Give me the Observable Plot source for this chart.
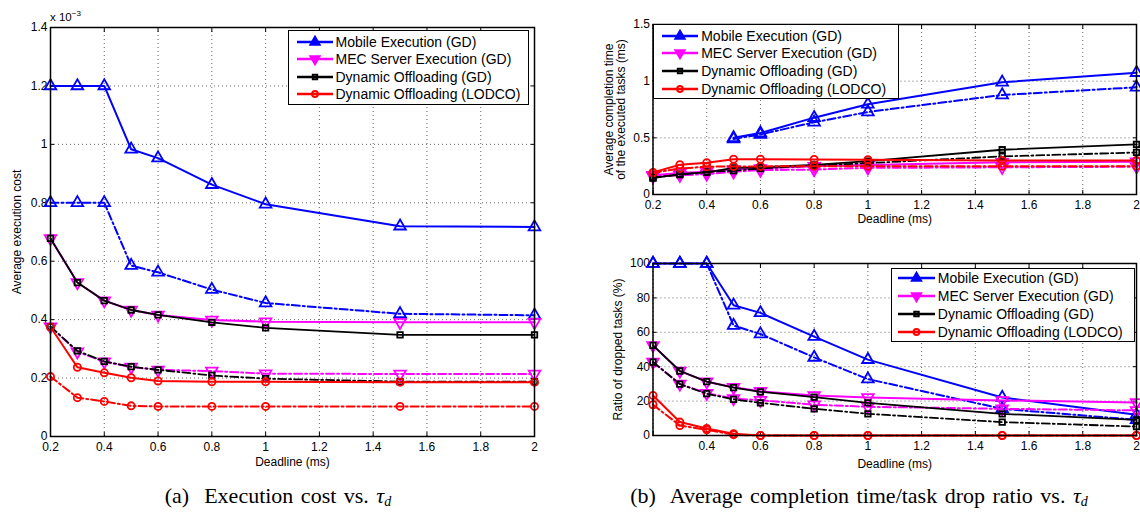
<!DOCTYPE html>
<html><head><meta charset="utf-8">
<script src="https://cdn.jsdelivr.net/npm/d3@7"></script>
<script src="https://cdn.jsdelivr.net/npm/@observablehq/plot@0.6"></script>
<style>
body{margin:0;background:#fff;}
#root{position:relative;width:1140px;height:512px;overflow:hidden;font-family:"Liberation Sans",Arial,sans-serif;color:#000;}
#root svg.plot{position:absolute;overflow:visible;}
.legend{position:absolute;border:1.5px solid #000;background:#fff;box-sizing:border-box;font-size:14px;}
.legend .row{position:absolute;left:0;height:18px;line-height:18px;white-space:nowrap;}
.legend svg{position:absolute;top:0;}
.legend span{position:absolute;top:0;}
.caption{position:absolute;font-family:"Liberation Serif","Times New Roman",serif;font-size:22px;word-spacing:2px;white-space:nowrap;transform:translateX(-50%);line-height:24px;}
.caption sub{font-size:14px;vertical-align:-3px;line-height:0;}
.exp{position:absolute;font-size:11.5px;}
</style></head><body><div id="root"></div>
<script>
// ---------- data ----------
const deadlines = [0.2, 0.3, 0.4, 0.5, 0.6, 0.8, 1, 1.5, 2];
const seriesNames = ["Mobile Execution (GD)", "MEC Server Execution (GD)", "Dynamic Offloading (GD)", "Dynamic Offloading (LODCO)"];

// (a) average execution cost (x 10^-3); A = solid, B = dash-dot
const costMobileA = [1.2, 1.2, 1.2, 0.983, 0.953, 0.862, 0.795, 0.72, 0.717];
const costMobileB = [0.8, 0.8, 0.8, 0.585, 0.562, 0.503, 0.457, 0.42, 0.415];
const costMecA    = [0.678, 0.527, 0.465, 0.433, 0.416, 0.399, 0.393, 0.391, 0.391];
const costMecB    = [0.376, 0.29, 0.256, 0.238, 0.228, 0.224, 0.215, 0.214, 0.214];
const costDynA    = [0.678, 0.527, 0.465, 0.433, 0.416, 0.391, 0.372, 0.348, 0.348];
const costDynB    = [0.376, 0.293, 0.257, 0.239, 0.228, 0.209, 0.198, 0.188, 0.188];
const costLodcoA  = [0.375, 0.237, 0.218, 0.201, 0.19, 0.187, 0.187, 0.186, 0.186];
const costLodcoB  = [0.205, 0.133, 0.12, 0.105, 0.103, 0.103, 0.103, 0.103, 0.103];

// (b, top) average completion time of executed tasks (ms)
const timeMobileA = [null, null, null, 0.5, 0.542, 0.678, 0.796, 0.99, 1.075];
const timeMobileB = [null, null, null, 0.49, 0.53, 0.637, 0.728, 0.878, 0.946];
const timeMecA    = [0.17, 0.19, 0.2, 0.22, 0.23, 0.25, 0.26, 0.285, 0.29];
const timeMecB    = [0.16, 0.17, 0.18, 0.2, 0.215, 0.22, 0.235, 0.24, 0.245];
const timeDynA    = [0.145, 0.18, 0.195, 0.235, 0.24, 0.262, 0.295, 0.395, 0.442];
const timeDynB    = [0.15, 0.175, 0.2, 0.21, 0.23, 0.255, 0.277, 0.336, 0.371];
const timeLodcoA  = [0.195, 0.262, 0.28, 0.312, 0.312, 0.309, 0.307, 0.3, 0.3];
const timeLodcoB  = [0.19, 0.23, 0.245, 0.248, 0.248, 0.25, 0.25, 0.25, 0.25];

// (b, bottom) ratio of dropped tasks (%)
const dropMobileA = [100, 100, 100, 75.7, 71.3, 57.5, 44.1, 22.1, 12];
const dropMobileB = [100, 100, 100, 63.9, 59, 45.4, 32.8, 15.5, 9.1];
const dropMecA    = [52.4, 37.5, 31.3, 28, 25.7, 23.3, 22.1, 20.4, 19.2];
const dropMecB    = [42.7, 30, 24.5, 21.5, 20.5, 17.9, 16.7, 15.5, 14.6];
const dropDynA    = [52.4, 37.5, 31.3, 27.8, 25.4, 22.3, 19, 12.6, 9.1];
const dropDynB    = [42.7, 29.9, 24.3, 21, 19, 15.5, 12.6, 7.8, 5.2];
const dropLodcoA  = [23.3, 7.8, 4.1, 1, 0, 0, 0, 0, 0];
const dropLodcoB  = [17.9, 5.8, 3.3, 0.5, 0, 0, 0, 0, 0];

const xTicks = [0.2, 0.4, 0.6, 0.8, 1, 1.2, 1.4, 1.6, 1.8, 2];
const costTicks = [0, 0.2, 0.4, 0.6, 0.8, 1, 1.2, 1.4];
const timeTicks = [0, 0.5, 1, 1.5];
const dropTicks = [0, 20, 40, 60, 80, 100];

// ---------- styles ----------
const styles = [
  {color: "#0000ff", symbol: "triangle", rotate: 0, r: 4.3},
  {color: "#ff00ff", symbol: "triangle", rotate: 180, r: 4.3},
  {color: "#000000", symbol: "square", rotate: 0, r: 3.1},
  {color: "#ff0000", symbol: "circle", rotate: 0, r: 3.6}
];
const dashB = "8,3,2,3";

function rowsOf(values) {
  return deadlines.map((d, i) => ({deadline: d, value: values[i]})).filter(r => r.value != null);
}

function makePanel({groups, yDomain, yTicks, width, height, margin, yLabel, xLabelOffset, yLabelOffset, hideFirstX}) {
  const marks = [
    Plot.gridX(xTicks, {stroke: "#000", strokeOpacity: 0.6, strokeDasharray: "1,3"}),
    Plot.gridY(yTicks, {stroke: "#000", strokeOpacity: 0.6, strokeDasharray: "1,3"}),
    Plot.axisX({ticks: xTicks, tickFormat: d => (hideFirstX && d === 0.2) ? "" : String(d), tickSize: -4, tickPadding: 10,
      label: "Deadline (ms)", labelAnchor: "center", labelArrow: "none", labelOffset: xLabelOffset}),
    Plot.axisX({anchor: "top", ticks: xTicks, tickSize: -4, fill: "none", label: null}),
    Plot.axisY({ticks: yTicks, tickFormat: d => String(d), tickSize: -4, tickPadding: 7,
      label: yLabel, labelAnchor: "center", labelArrow: "none", labelOffset: yLabelOffset}),
    Plot.axisY({anchor: "right", ticks: yTicks, tickSize: -4, fill: "none", label: null})
  ];
  groups.forEach((pair, k) => {
    const st = styles[k];
    pair.forEach((vals, j) => {
      const rows = rowsOf(vals);
      marks.push(Plot.line(rows, {x: "deadline", y: "value", stroke: st.color, strokeWidth: k === 2 ? 1.8 : 2,
        strokeDasharray: j === 1 ? dashB : null}));
      marks.push(Plot.dot(rows, {x: "deadline", y: "value", symbol: st.symbol, rotate: st.rotate, r: st.r,
        stroke: st.color, fill: "none", strokeWidth: 1.8}));
    });
  });
  marks.push(Plot.frame({stroke: "#000", strokeWidth: 1.5}));
  const svg = Plot.plot({
    width, height,
    marginLeft: margin[0], marginRight: margin[1], marginTop: margin[2], marginBottom: margin[3],
    x: {domain: [0.2, 2]},
    y: {domain: yDomain},
    style: {fontFamily: "'Liberation Sans', Arial, sans-serif", fontSize: "12px", color: "#000", background: "transparent"},
    marks
  });
  svg.classList.add("plot");
  return svg;
}

function legend(root, {left, top, width, height, padTop, rowH, sx, sw, tx}) {
  const box = document.createElement("div");
  box.className = "legend";
  Object.assign(box.style, {left: left + "px", top: top + "px", width: width + "px", height: height + "px"});
  seriesNames.forEach((name, k) => {
    const st = styles[k];
    const row = document.createElement("div");
    row.className = "row";
    row.style.top = (padTop + k * rowH - 1.5) + "px";
    row.style.width = width + "px";
    const ns = "http://www.w3.org/2000/svg";
    const s = document.createElementNS(ns, "svg");
    s.setAttribute("width", sw + 2); s.setAttribute("height", 18);
    s.style.left = (sx - 1.5) + "px";
    const ln = document.createElementNS(ns, "line");
    ln.setAttribute("x1", 1); ln.setAttribute("x2", sw + 1); ln.setAttribute("y1", 9); ln.setAttribute("y2", 9);
    ln.setAttribute("stroke", st.color); ln.setAttribute("stroke-width", 2.5);
    s.appendChild(ln);
    const rr = st.r * 0.8;
    const sym = d3.symbol().type({triangle: d3.symbolTriangle, square: d3.symbolSquare, circle: d3.symbolCircle}[st.symbol])
      .size(Math.PI * rr * rr)();
    const p = document.createElementNS(ns, "path");
    p.setAttribute("d", sym);
    p.setAttribute("transform", `translate(${1 + sw / 2},9) rotate(${st.rotate})`);
    p.setAttribute("fill", k < 2 ? st.color : "none"); p.setAttribute("stroke", st.color); p.setAttribute("stroke-width", 2);
    s.appendChild(p);
    row.appendChild(s);
    const t = document.createElement("span");
    t.textContent = name;
    t.style.left = (tx - 1.5) + "px";
    row.appendChild(t);
    box.appendChild(row);
  });
  root.appendChild(box);
}

const root = document.getElementById("root");

const pA = makePanel({
  groups: [[costMobileA, costMobileB], [costMecA, costMecB], [costDynA, costDynB], [costLodcoA, costLodcoB]],
  yDomain: [0, 1.4], yTicks: costTicks, width: 560, height: 480, margin: [50, 26, 27, 44],
  yLabel: "Average execution cost", xLabelOffset: 29, yLabelOffset: 38
});
pA.style.left = "0px"; pA.style.top = "0px";
root.appendChild(pA);

const pB1 = makePanel({
  groups: [[timeMobileA, timeMobileB], [timeMecA, timeMecB], [timeDynA, timeDynB], [timeLodcoA, timeLodcoB]],
  yDomain: [0, 1.5], yTicks: timeTicks, width: 580, height: 230, margin: [92.5, 4, 24, 36],
  yLabel: "Average completion time\nof the executed tasks (ms)", xLabelOffset: 28, yLabelOffset: 49
});
pB1.style.left = "560px"; pB1.style.top = "0px";
root.appendChild(pB1);

const pB2 = makePanel({
  groups: [[dropMobileA, dropMobileB], [dropMecA, dropMecB], [dropDynA, dropDynB], [dropLodcoA, dropLodcoB]],
  yDomain: [0, 100], yTicks: dropTicks, width: 580, height: 240, margin: [92.5, 4, 23, 45],
  yLabel: "Ratio of dropped tasks (%)", xLabelOffset: 32, yLabelOffset: 40, hideFirstX: true
});
pB2.style.left = "560px"; pB2.style.top = "240px";
root.appendChild(pB2);

legend(root, {left: 288, top: 30, width: 241, height: 75, padTop: 3, rowH: 17.5, sx: 8, sw: 36, tx: 48});
legend(root, {left: 653, top: 24, width: 246, height: 75, padTop: 3, rowH: 17.8, sx: 8.7, sw: 36, tx: 48.7});
legend(root, {left: 890.7, top: 267.7, width: 244.3, height: 74.6, padTop: 1.6, rowH: 18.1, sx: 7, sw: 37, tx: 47.6});

const exp = document.createElement("div");
exp.className = "exp";
exp.style.left = "50px"; exp.style.top = "9px";
exp.innerHTML = "x 10<sup style=\"font-size:8px\">\u22123</sup>";
root.appendChild(exp);

const capA = document.createElement("div");
capA.className = "caption";
capA.style.left = "278px"; capA.style.top = "484px";
capA.innerHTML = "(a)\u00a0 Execution cost vs. <i>\u03c4<sub>d</sub></i>";
root.appendChild(capA);

const capB = document.createElement("div");
capB.className = "caption";
capB.style.left = "859px"; capB.style.top = "484px";
capB.innerHTML = "(b)\u00a0 Average completion time/task drop ratio vs. <i>\u03c4<sub>d</sub></i>";
root.appendChild(capB);
</script></body></html>
